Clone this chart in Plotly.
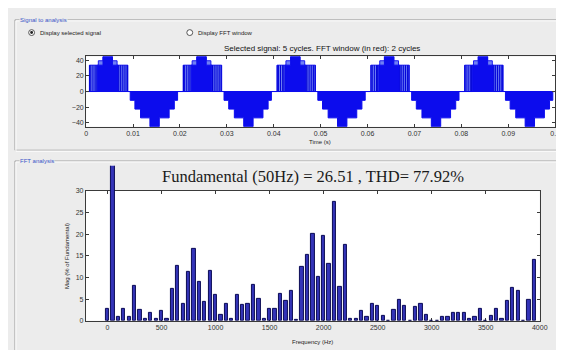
import plotly.graph_objects as go

W, H = 564, 350

# ---------------- data ----------------
# FFT harmonics (Hz) and magnitudes (% of fundamental)
freqs_hz = [0, 50, 100, 150, 200, 250, 300, 350, 400, 450,
            500, 550, 600, 650, 700, 750, 800, 850, 900, 950,
            1000, 1050, 1100, 1150, 1200, 1250, 1300, 1350, 1400, 1450,
            1500, 1550, 1600, 1650, 1700, 1750, 1800, 1850, 1900, 1950,
            2000, 2050, 2100, 2150, 2200, 2250, 2300, 2350, 2400, 2450,
            2500, 2550, 2600, 2650, 2700, 2750, 2800, 2850, 2900, 2950,
            3000, 3050, 3100, 3150, 3200, 3250, 3300, 3350, 3400, 3450,
            3500, 3550, 3600, 3650, 3700, 3750, 3800, 3850, 3900, 3950]
mag_pct = [2.8, 100.0, 0.8, 2.8, 1.0, 8.1, 2.4, 0.5, 1.7, 0.4,
           2.3, 0.4, 7.4, 12.7, 4.0, 11.2, 16.6, 8.9, 4.4, 11.6,
           6.0, 1.3, 3.9, 0.4, 6.0, 3.7, 4.0, 8.4, 5.1, 0.5,
           2.8, 2.8, 6.3, 4.5, 6.8, 0.2, 12.5, 15.3, 20.0, 10.1,
           19.7, 13.1, 27.4, 7.9, 17.6, 0.4, 0.5, 2.3, 0.8, 3.8,
           3.4, 1.1, 0.0, 2.5, 4.8, 3.4, 0.0, 3.2, 3.9, 1.3,
           0.0, 0.0, 0.8, 1.0, 1.7, 1.7, 1.7, 0.4, 1.0, 2.8,
           0.0, 1.1, 2.8, 0.5, 4.5, 7.6, 6.8, 0.0, 4.9, 14.1]
freq_ticks = [0, 500, 1000, 1500, 2000, 2500, 3000, 3500, 4000]
mag_ticks = [0, 5, 10, 15, 20, 25, 30]

# time signal (5 cycles) read as step levels within each 20 ms cycle
cycle_starts_s = [0.0, 0.02, 0.04, 0.06, 0.08]
pos_env_edges_ms = [0.7, 2.6, 3.6, 5.6, 6.6, 8.9]
pos_env_levels = [33.75, 39.4, 45.0, 39.4, 33.75, 0.0]
pos_core_edges_ms = [2.4, 3.6, 5.6, 6.8]
pos_core_levels = [33.75, 45.0, 33.75, 0.0]
neg_edges_ms = [9.4, 10.4, 11.6, 13.6, 15.6, 17.7, 18.8, 19.5]
neg_levels = [-11.25, -22.5, -33.75, -45.0, -33.75, -22.5, -11.25, 0.0]
switch_lines_ms = [0.75, 1.0, 1.45, 1.9, 2.15, 6.95, 7.3, 7.7, 8.1, 8.5, 8.8]
switch_level = 33.75
time_ticks = [0, 0.01, 0.02, 0.03, 0.04, 0.05, 0.06, 0.07, 0.08, 0.09, 0.1]
time_ticktext = ["0", "0.01", "0.02", "0.03", "0.04", "0.05", "0.06", "0.07", "0.08", "0.09", "0.1"]
sig_ticks = [-40, -20, 0, 20, 40]

fundamental_text = "Fundamental (50Hz) = 26.51 , THD= 77.92%"
signal_title = "Selected signal: 5 cycles. FFT window (in red): 2 cycles"


# ---------------- helpers ----------------
def px(x):
    return x / W


def py(y):
    return 1 - y / H


def steps(edges_ms, levels):
    xs, ys = [0.0], [0.0]
    for c in cycle_starts_s:
        for e, l in zip(edges_ms, levels):
            xs.append(c + e / 1000.0)
            ys.append(l)
    xs.append(0.1)
    ys.append(0.0)
    return xs, ys


BG = "#ececec"
TICKFONT = dict(family="Liberation Sans, Arial, sans-serif", size=7, color="#333333")

fig = go.Figure()

# ----- top: signal -----
ex, ey = steps(pos_env_edges_ms, pos_env_levels)
fig.add_trace(go.Scatter(x=ex, y=ey, mode="lines", line=dict(color="#1a1af0", width=1, shape="hv"),
                         fill="tozeroy", fillcolor="#7080f4", xaxis="x", yaxis="y",
                         hoverinfo="skip", showlegend=False))
cx, cy = steps(pos_core_edges_ms, pos_core_levels)
fig.add_trace(go.Scatter(x=cx, y=cy, mode="lines", line=dict(color="#0c0ced", width=1, shape="hv"),
                         fill="tozeroy", fillcolor="#0c0ced", xaxis="x", yaxis="y",
                         hoverinfo="skip", showlegend=False))
sx, sy = [], []
for c in cycle_starts_s:
    for t in switch_lines_ms:
        sx += [c + t / 1000.0, c + t / 1000.0, None]
        sy += [0, switch_level, None]
fig.add_trace(go.Scatter(x=sx, y=sy, mode="lines", line=dict(color="#0000d8", width=1),
                         xaxis="x", yaxis="y", hoverinfo="skip", showlegend=False))
nx, ny = steps(neg_edges_ms, neg_levels)
fig.add_trace(go.Scatter(x=nx, y=ny, mode="lines", line=dict(color="#0c0ced", width=1, shape="hv"),
                         fill="tozeroy", fillcolor="#0c0ced", xaxis="x", yaxis="y",
                         hoverinfo="skip", showlegend=False))

# ----- bottom: frame subplot (empty) + bar subplot -----
fig.add_trace(go.Scatter(x=[], y=[], xaxis="x2", yaxis="y2", showlegend=False))
fig.add_trace(go.Bar(x=freqs_hz, y=mag_pct, width=30, xaxis="x3", yaxis="y3",
                     marker=dict(color="#3434b8", line=dict(color="#0b0b55", width=1)),
                     hoverinfo="skip", showlegend=False))

axis_common = dict(showgrid=False, zeroline=False, showline=True, linecolor="#3a3a3a", linewidth=1,
                   ticks="inside", ticklen=3, tickcolor="#3a3a3a", mirror="ticks", tickfont=TICKFONT)

fig.update_layout(
    width=W, height=H, autosize=False,
    margin=dict(l=0, r=0, t=0, b=0),
    paper_bgcolor=BG, plot_bgcolor="rgba(0,0,0,0)",
    xaxis=dict(domain=[px(77.5), px(555)], range=[0, 0.1], tickvals=time_ticks, ticktext=time_ticktext,
               anchor="y", **axis_common),
    yaxis=dict(domain=[py(117), py(45.3)], range=[-45, 45], tickvals=sig_ticks,
               anchor="x", **axis_common),
    xaxis2=dict(domain=[px(77.3), px(539.3)], range=[-200, 4000], tickvals=freq_ticks,
                anchor="y2", **axis_common),
    yaxis2=dict(domain=[py(315), py(182.7)], range=[0, 30], tickvals=mag_ticks,
                anchor="x2", **axis_common),
    xaxis3=dict(domain=[px(77.3), px(539.3)], range=[-200, 4000], visible=False, anchor="y3"),
    yaxis3=dict(domain=[py(315), py(157)], range=[0, 30 * (315 - 157) / (315 - 182.7)],
                visible=False, anchor="x3"),
    bargap=0,
)

shapes = []
# white axes backgrounds
shapes.append(dict(type="rect", xref="x domain", yref="y domain", x0=0, x1=1, y0=0, y1=1,
                   fillcolor="white", line=dict(width=0), layer="below"))
shapes.append(dict(type="rect", xref="x2 domain", yref="y2 domain", x0=0, x1=1, y0=0, y1=1,
                   fillcolor="white", line=dict(width=0), layer="below"))
# etched panel borders
for (x0, y0, x1, y1) in [(5, 8, 560, 141), (5, 152, 560, 348)]:
    shapes.append(dict(type="rect", xref="paper", yref="paper", x0=px(x0), x1=px(x1), y0=py(y1), y1=py(y0),
                       line=dict(color="#a8a8a8", width=1), layer="below"))
    shapes.append(dict(type="rect", xref="paper", yref="paper", x0=px(x0 + 1), x1=px(x1 + 1),
                       y0=py(y1 + 1), y1=py(y0 + 1), line=dict(color="#ffffff", width=1), layer="below"))
# radio buttons
shapes.append(dict(type="circle", xref="paper", yref="paper", x0=px(19), x1=px(25), y0=py(24), y1=py(18),
                   line=dict(color="#555555", width=1), fillcolor="white"))
shapes.append(dict(type="circle", xref="paper", yref="paper", x0=px(20.5), x1=px(23.5), y0=py(22.5), y1=py(19.5),
                   line=dict(width=0), fillcolor="#222222"))
shapes.append(dict(type="circle", xref="paper", yref="paper", x0=px(180), x1=px(186), y0=py(24), y1=py(18),
                   line=dict(color="#555555", width=1), fillcolor="white"))
fig.update_layout(shapes=shapes)

small = dict(family="Liberation Sans, Arial, sans-serif", size=6, color="#222222")
ann = [
    dict(text="Signal to analysis", x=px(9), y=py(8), xanchor="left", yanchor="middle",
         font=dict(family="Liberation Sans, Arial, sans-serif", size=6, color="#3a55c8"), bgcolor=BG, borderpad=0),
    dict(text="FFT analysis", x=px(9), y=py(152), xanchor="left", yanchor="middle",
         font=dict(family="Liberation Sans, Arial, sans-serif", size=6, color="#3a55c8"), bgcolor=BG, borderpad=0),
    dict(text="Display selected signal", x=px(28), y=py(21), xanchor="left", yanchor="middle", font=small),
    dict(text="Display FFT window", x=px(189), y=py(21), xanchor="left", yanchor="middle", font=small),
    dict(text=signal_title, x=px(318), y=py(37), xanchor="center", yanchor="middle",
         font=dict(family="Liberation Sans, Arial, sans-serif", size=8, color="#111111")),
    dict(text="Time (s)", x=px(316), y=py(133), xanchor="center", yanchor="middle", font=small),
    dict(text=fundamental_text, x=px(308), y=py(168), xanchor="center", yanchor="middle",
         font=dict(family="Liberation Serif, Times New Roman, serif", size=16.5, color="#1a1a1a")),
    dict(text="Frequency (Hz)", x=px(308), y=py(337), xanchor="center", yanchor="middle", font=small),
    dict(text="Mag (% of Fundamental)", x=px(58), y=py(249), xanchor="center", yanchor="middle",
         textangle=-90, font=small),
]
for a in ann:
    a.setdefault("xref", "paper")
    a.setdefault("yref", "paper")
    a.setdefault("showarrow", False)
fig.update_layout(annotations=ann)

fig.write_html("out.html")
